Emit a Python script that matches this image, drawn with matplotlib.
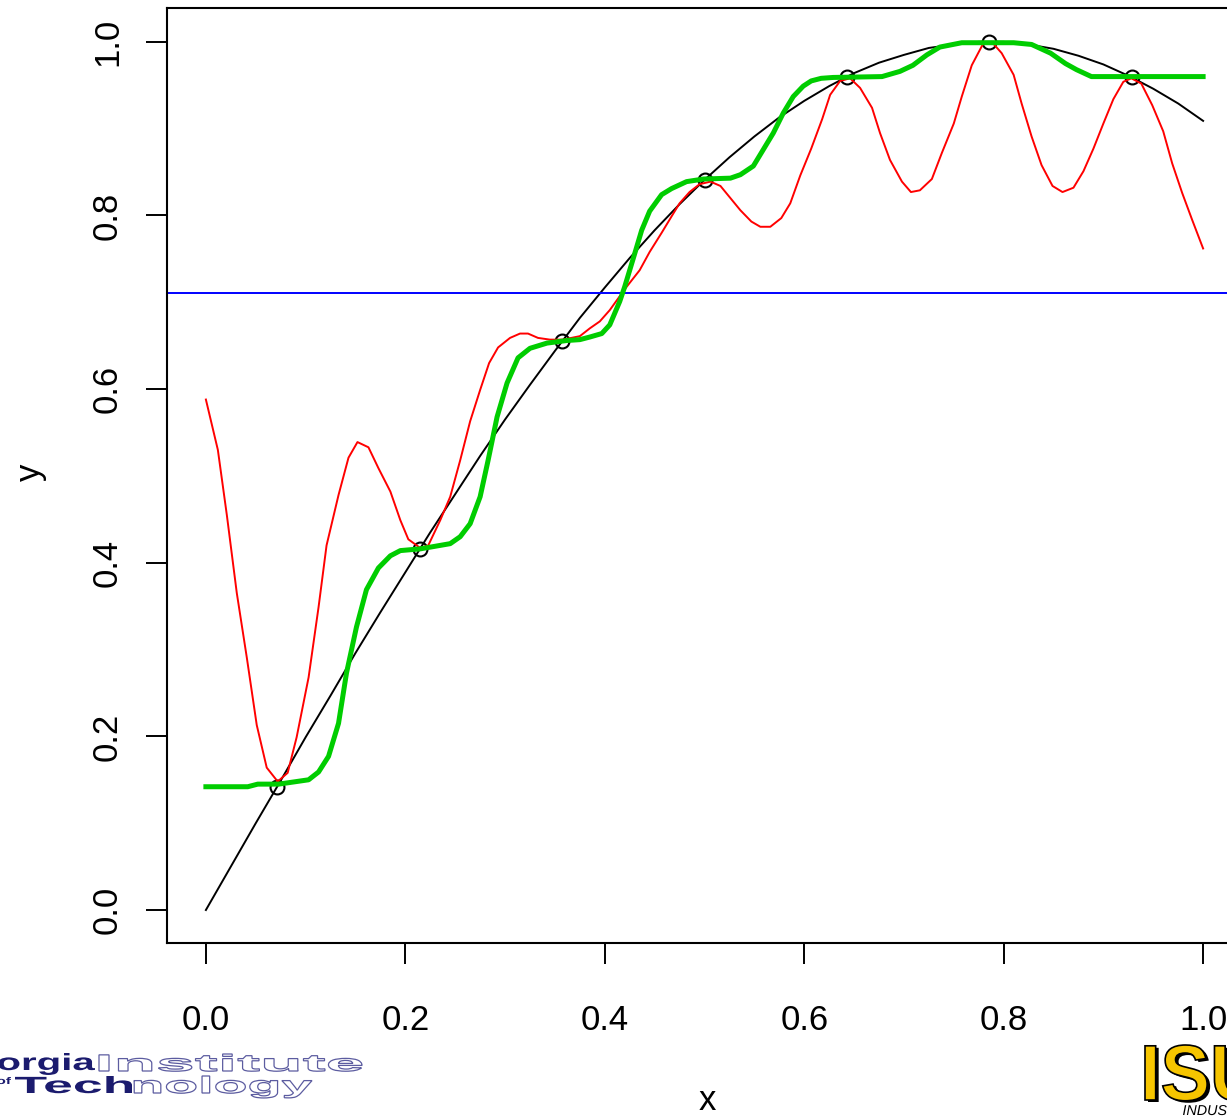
import numpy as np
import matplotlib
matplotlib.use("Agg")
import matplotlib.pyplot as plt
from matplotlib.textpath import TextPath
from matplotlib.patches import PathPatch
from matplotlib.font_manager import FontProperties
from matplotlib.transforms import Affine2D, IdentityTransform

plt.rcParams['font.family'] = ['Liberation Sans', 'DejaVu Sans']

# true curve y = sin(2x), sampled
true_x = [0.0, 0.025, 0.05, 0.075, 0.1, 0.125, 0.15, 0.175, 0.2, 0.225, 0.25,
          0.275, 0.3, 0.325, 0.35, 0.375, 0.4, 0.425, 0.45, 0.475, 0.5,
          0.525, 0.55, 0.575, 0.6, 0.625, 0.65, 0.675, 0.7, 0.725, 0.75,
          0.775, 0.8, 0.825, 0.85, 0.875, 0.9, 0.925, 0.95, 0.975, 1.0]
true_y = [0.000, 0.050, 0.100, 0.149, 0.199, 0.247, 0.296, 0.343, 0.389, 0.435, 0.479,
          0.523, 0.565, 0.605, 0.644, 0.682, 0.717, 0.751, 0.783, 0.813, 0.841,
          0.867, 0.891, 0.913, 0.932, 0.949, 0.964, 0.976, 0.985, 0.993, 0.997,
          1.000, 1.000, 0.997, 0.992, 0.984, 0.974, 0.961, 0.946, 0.929, 0.909]

# observed sample points
pts_x = [0.0714, 0.2143, 0.3571, 0.5, 0.6429, 0.7857, 0.9286]
pts_y = [0.142, 0.416, 0.655, 0.841, 0.960, 1.000, 0.959]
mean_y = 0.711

# oscillating interpolant
red_x = [0.000, 0.012, 0.021, 0.031, 0.041, 0.051, 0.061, 0.072, 0.082, 0.091,
         0.103, 0.113, 0.121, 0.133, 0.143, 0.152, 0.163, 0.173, 0.185, 0.195,
         0.203, 0.215, 0.223, 0.235, 0.245, 0.255, 0.265, 0.275, 0.284, 0.293,
         0.305, 0.315, 0.323, 0.333, 0.345, 0.358, 0.375, 0.385, 0.395, 0.405,
         0.415, 0.422, 0.435, 0.445, 0.457, 0.467, 0.475, 0.485, 0.495, 0.506,
         0.516, 0.526, 0.536, 0.547, 0.556, 0.566, 0.577, 0.586, 0.596, 0.607,
         0.618, 0.626, 0.636, 0.646, 0.656, 0.668, 0.676, 0.686, 0.698, 0.707,
         0.716, 0.728, 0.738, 0.750, 0.758, 0.768, 0.779, 0.788, 0.798, 0.810,
         0.818, 0.828, 0.838, 0.849, 0.859, 0.870, 0.880, 0.890, 0.900, 0.910,
         0.920, 0.928, 0.938, 0.949, 0.960, 0.969, 0.979, 0.989, 1.000]
red_y = [0.588, 0.530, 0.455, 0.365, 0.291, 0.213, 0.164, 0.148, 0.158, 0.199,
         0.268, 0.349, 0.420, 0.478, 0.521, 0.539, 0.533, 0.509, 0.482, 0.449,
         0.427, 0.417, 0.420, 0.449, 0.476, 0.518, 0.563, 0.599, 0.630, 0.648,
         0.659, 0.664, 0.664, 0.659, 0.657, 0.657, 0.661, 0.670, 0.678, 0.691,
         0.707, 0.718, 0.737, 0.758, 0.780, 0.799, 0.814, 0.827, 0.836, 0.839,
         0.834, 0.820, 0.806, 0.793, 0.787, 0.787, 0.797, 0.814, 0.846, 0.877,
         0.911, 0.939, 0.955, 0.958, 0.947, 0.924, 0.895, 0.864, 0.839, 0.827,
         0.829, 0.842, 0.872, 0.906, 0.937, 0.973, 0.997, 1.000, 0.987, 0.962,
         0.929, 0.891, 0.858, 0.834, 0.827, 0.832, 0.851, 0.877, 0.906, 0.934,
         0.954, 0.958, 0.952, 0.927, 0.897, 0.860, 0.826, 0.795, 0.762]

# smooth step interpolant
green_x = [0.000, 0.042, 0.052, 0.073, 0.103, 0.113, 0.123, 0.133, 0.141, 0.151,
           0.161, 0.173, 0.185, 0.195, 0.215, 0.245, 0.255, 0.265, 0.275, 0.283,
           0.292, 0.302, 0.313, 0.325, 0.342, 0.362, 0.375, 0.385, 0.397, 0.405,
           0.415, 0.420, 0.430, 0.437, 0.445, 0.457, 0.467, 0.482, 0.499, 0.526,
           0.536, 0.549, 0.559, 0.569, 0.579, 0.589, 0.599, 0.607, 0.617, 0.629,
           0.678, 0.696, 0.709, 0.723, 0.736, 0.758, 0.810, 0.828, 0.847, 0.862,
           0.873, 0.888, 1.000]
green_y = [0.142, 0.142, 0.145, 0.145, 0.150, 0.159, 0.177, 0.215, 0.273, 0.326,
           0.369, 0.394, 0.408, 0.414, 0.416, 0.422, 0.430, 0.445, 0.476, 0.518,
           0.568, 0.607, 0.636, 0.647, 0.653, 0.656, 0.657, 0.660, 0.664, 0.674,
           0.701, 0.718, 0.756, 0.783, 0.805, 0.824, 0.831, 0.839, 0.842, 0.843,
           0.847, 0.857, 0.876, 0.895, 0.918, 0.937, 0.949, 0.955, 0.958, 0.959,
           0.960, 0.966, 0.973, 0.985, 0.994, 0.999, 0.999, 0.997, 0.987, 0.975,
           0.968, 0.960, 0.960]

ticks = [0.0, 0.2, 0.4, 0.6, 0.8, 1.0]
tick_labels = ['0.0', '0.2', '0.4', '0.6', '0.8', '1.0']

W, H = 1227, 1120
fig = plt.figure(figsize=(W / 100, H / 100), dpi=100)
ax = fig.add_axes([167 / W, (H - 943) / H, (1243 - 167) / W, (943 - 8) / H])

ax.plot(true_x, true_y, color='black', lw=1.4)
ax.plot(pts_x, pts_y, 'o', mfc='none', mec='black', ms=10, mew=1.5)
ax.axhline(mean_y, color='#0000FF', lw=1.4)
ax.plot(red_x, red_y, color='#FF0000', lw=1.4)
ax.plot(green_x, green_y, color='#00CD00', lw=3.6)

ax.set_xlim(-0.039, 1.04)
ax.set_ylim(-0.038, 1.039)
ax.set_xticks(ticks)
ax.set_xticklabels(tick_labels)
ax.set_yticks(ticks)
ax.set_yticklabels(tick_labels, rotation=90, va='center')
ax.tick_params(length=15, width=1.4, labelsize=25, color='black')
ax.tick_params(axis='x', pad=29)
ax.tick_params(axis='y', pad=16)
for sp in ax.spines.values():
    sp.set_linewidth(1.5)

fig.text(707 / W, 1 - 1101 / H, 'x', ha='center', va='center', fontsize=25)
fig.text(30 / W, 1 - 472 / H, 'y', ha='center', va='center', fontsize=25,
         rotation=90)


def logo_word(text, x0, x1, top, base, fc, ec='none', lw=0.0, italic=False,
              bold=True):
    fp = FontProperties(family='Liberation Sans',
                        weight='bold' if bold else 'normal',
                        style='italic' if italic else 'normal')
    tp = TextPath((0, 0), text, size=100, prop=fp)
    ext = tp.get_extents()
    sy = (base - top) / ext.y1
    sx = sy if x1 is None else (x1 - x0) / ext.width
    tr = Affine2D().translate(-ext.x0, 0).scale(sx, sy).translate(x0, H - base)
    patch = PathPatch(tr.transform_path(tp), facecolor=fc, edgecolor=ec,
                      lw=lw, transform=IdentityTransform())
    fig.add_artist(patch)


# institute logo, bottom left
navy = '#1b1b6e'
logo_word('orgia', -2, 95, 1053, 1070, navy)
logo_word('Institute', 99, 362, 1054, 1071, 'white', ec='#5c5ca0', lw=0.9)
logo_word('of', -3, 11, 1077, 1084, navy)
logo_word('Tech', 15, 132, 1076, 1093, navy)
logo_word('nology', 134, 312, 1076, 1093, 'white', ec='#5c5ca0', lw=0.9)

# company logo, bottom right
logo_word('ISU', 1148, 1262, 1047, 1102, 'black')
logo_word('ISU', 1145, 1259, 1045, 1100, '#F6C500', ec='black', lw=1.2)
logo_word('INDUSTRIES', 1183, None, 1105, 1115, 'black', italic=True,
          bold=False)

fig.savefig('out.png', dpi=100)
